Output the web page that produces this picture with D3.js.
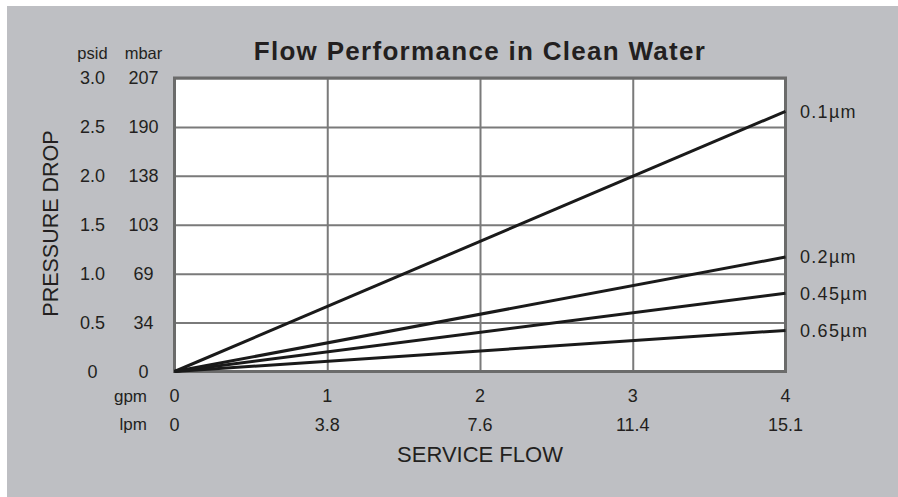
<!DOCTYPE html>
<html>
<head>
<meta charset="utf-8">
<script src="https://cdn.jsdelivr.net/npm/d3@7"></script>
<style>
  html, body { margin: 0; padding: 0; background: #ffffff; }
  svg { display: block; }
  text { font-family: "Liberation Sans", Arial, Helvetica, sans-serif; fill: #231f20; }
</style>
</head>
<body>
<svg id="chart" width="898" height="497"></svg>
<script>
// ---- data ----
const title = "Flow Performance in Clean Water";
const gpmTicks = [0, 1, 2, 3, 4];
const lpmLabels = ["0", "3.8", "7.6", "11.4", "15.1"];
const psidTicks = [0, 0.5, 1.0, 1.5, 2.0, 2.5, 3.0];
const psidLabels = ["0", "0.5", "1.0", "1.5", "2.0", "2.5", "3.0"];
const mbarLabels = ["0", "34", "69", "103", "138", "190", "207"];
const seriesNames = ["0.1µm", "0.2µm", "0.45µm", "0.65µm"];
const flowGpm = [0, 4];
const drop_01 = [0, 2.66];
const drop_02 = [0, 1.17];
const drop_045 = [0, 0.80];
const drop_065 = [0, 0.42];
const seriesValues = [drop_01, drop_02, drop_045, drop_065];

// ---- layout ----
const svg = d3.select("#chart");
const W = 898, H = 497;
const plot = { left: 174.5, right: 785.5, top: 78, bottom: 371.5 };

svg.append("rect").attr("x", 7).attr("y", 6).attr("width", W - 7).attr("height", H - 6)
  .attr("fill", "#bebfc3");

const x = d3.scaleLinear().domain([0, 4]).range([plot.left, plot.right]);
const y = d3.scaleLinear().domain([0, 3]).range([plot.bottom, plot.top]);

// plot background
svg.append("rect").attr("x", plot.left).attr("y", plot.top)
  .attr("width", plot.right - plot.left).attr("height", plot.bottom - plot.top)
  .attr("fill", "#ffffff");

// gridlines via axes
const gx = svg.append("g").attr("transform", `translate(0,${plot.bottom})`)
  .call(d3.axisBottom(x).tickValues(gpmTicks).tickSize(-(plot.bottom - plot.top)).tickFormat(""));
const gy = svg.append("g").attr("transform", `translate(${plot.left},0)`)
  .call(d3.axisLeft(y).tickValues(psidTicks).tickSize(-(plot.right - plot.left)).tickFormat(""));
[gx, gy].forEach(g => {
  g.select(".domain").remove();
  g.selectAll(".tick line").attr("stroke", "#7a7a7a").attr("stroke-width", 2);
});

// border
svg.append("rect").attr("x", plot.left).attr("y", plot.top)
  .attr("width", plot.right - plot.left).attr("height", plot.bottom - plot.top)
  .attr("fill", "none").attr("stroke", "#6b6b6b").attr("stroke-width", 3);

// lines
const line = d3.line().x((d, i) => x(flowGpm[i])).y(d => y(d));
seriesValues.forEach((vals, k) => {
  svg.append("path").datum(vals).attr("d", line)
    .attr("fill", "none").attr("stroke", "#1a1a1a").attr("stroke-width", 3)
    .attr("stroke-linecap", "butt");
  svg.append("text").attr("x", 800).attr("y", y(vals[vals.length - 1]))
    .attr("dy", "0.35em").attr("font-size", 18).attr("letter-spacing", 1.3)
    .text(seriesNames[k]);
});

// title
svg.append("text").attr("x", 480).attr("y", 59.5).attr("text-anchor", "middle")
  .attr("font-size", 26).attr("font-weight", "bold").attr("letter-spacing", 1.3)
  .text(title);

// y tick labels
svg.append("text").attr("x", 92.5).attr("y", 59).attr("text-anchor", "middle")
  .attr("font-size", 16.5).text("psid");
svg.append("text").attr("x", 143.5).attr("y", 59).attr("text-anchor", "middle")
  .attr("font-size", 16.5).text("mbar");
psidTicks.forEach((v, i) => {
  svg.append("text").attr("x", 92.5).attr("y", y(v)).attr("dy", "0.36em")
    .attr("text-anchor", "middle").attr("font-size", 18).text(psidLabels[i]);
  svg.append("text").attr("x", 143.5).attr("y", y(v)).attr("dy", "0.36em")
    .attr("text-anchor", "middle").attr("font-size", 18).text(mbarLabels[i]);
});

// x tick labels
svg.append("text").attr("x", 147).attr("y", 401.5).attr("text-anchor", "end")
  .attr("font-size", 17).text("gpm");
svg.append("text").attr("x", 147).attr("y", 430).attr("text-anchor", "end")
  .attr("font-size", 17).text("lpm");
gpmTicks.forEach((v, i) => {
  svg.append("text").attr("x", x(v)).attr("y", 401.5).attr("text-anchor", "middle")
    .attr("font-size", 18).text(String(v));
  svg.append("text").attr("x", x(v)).attr("y", 430.5).attr("text-anchor", "middle")
    .attr("font-size", 18).text(lpmLabels[i]);
});

// axis titles
svg.append("text").attr("x", 480).attr("y", 461.5).attr("text-anchor", "middle")
  .attr("font-size", 22).text("SERVICE FLOW");
svg.append("text").attr("transform", "translate(57.5,223.5) rotate(-90)")
  .attr("text-anchor", "middle").attr("font-size", 21.5).text("PRESSURE DROP");
</script>
</body>
</html>
